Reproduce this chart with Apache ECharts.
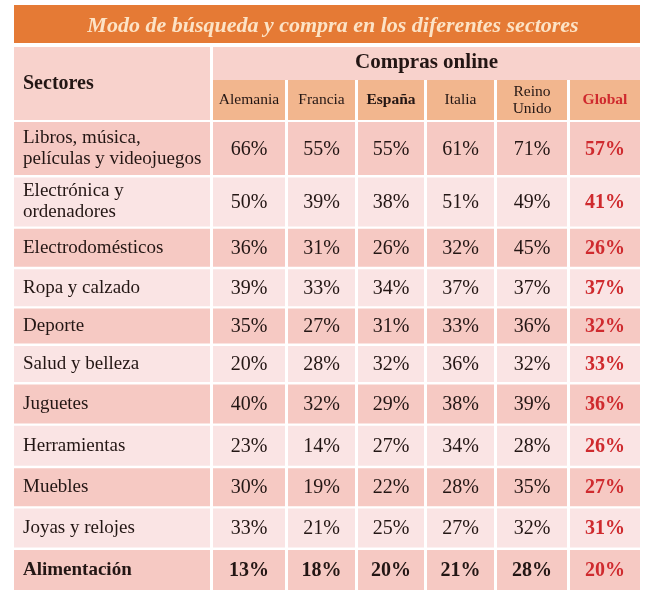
<!DOCTYPE html>
<html>
<head>
<meta charset="utf-8">
<script src="https://cdn.jsdelivr.net/npm/echarts@6/dist/echarts.min.js"></script>
<style>html,body{margin:0;padding:0;background:#fff}#c{width:658px;height:598px}</style>
</head>
<body>
<div id="c"></div>
<script>
// ---- data ----
const titleText = 'Modo de búsqueda y compra en los diferentes sectores';
const groupHeader = 'Compras online';
const sectorHeader = 'Sectores';
const sectors = ['Libros, música,\npelículas y videojuegos', 'Electrónica y\nordenadores', 'Electrodomésticos',
  'Ropa y calzado', 'Deporte', 'Salud y belleza', 'Juguetes', 'Herramientas', 'Muebles', 'Joyas y relojes', 'Alimentación'];
const countries = ['Alemania', 'Francia', 'España', 'Italia', 'Reino\nUnido', 'Global'];
const alemania   = [66, 50, 36, 39, 35, 20, 40, 23, 30, 33, 13];
const francia    = [55, 39, 31, 33, 27, 28, 32, 14, 19, 21, 18];
const espana     = [55, 38, 26, 34, 31, 32, 29, 27, 22, 25, 20];
const italia     = [61, 51, 32, 37, 33, 36, 38, 34, 28, 27, 21];
const reinoUnido = [71, 49, 45, 37, 36, 32, 39, 28, 35, 32, 28];
const global     = [57, 41, 26, 37, 32, 33, 36, 26, 27, 31, 20];
const seriesValues = [alemania, francia, espana, italia, reinoUnido, global];

// ---- layout (styles only) ----
const colWidths = [196, 72, 67, 66, 67, 70, 70];
const colGap = 3;
const rowHeights = [53, 49, 38, 37, 35, 36, 39, 40, 38, 39, 40];
const rowGap = 2.4;
const headTopH = 30, headGap = 3, headBotH = 40, bodyStart = 75;

const colL = [], colR = [];
let acc = 0;
colWidths.forEach((w, i) => { colL.push(acc); colR.push(acc + w); acc += w + colGap; });
const totalW = colR[colR.length - 1];
const rowT = [], rowB = [];
acc = bodyStart;
rowHeights.forEach(h => { rowT.push(acc); rowB.push(acc + h); acc += h + rowGap; });
const totalH = rowB[rowB.length - 1];

const FONT = '"Liberation Serif", "DejaVu Serif", serif';
const darkRow = '#F6C9C3', lightRow = '#FAE4E4';
const headPink = '#F8D2CC', headOrange = '#F2B68E';
const red = '#CF2A2E', ink = '#231614';

// cells: [col, row, value]
const bodyData = [];
seriesValues.forEach((arr, c) => arr.forEach((v, r) => bodyData.push([c + 1, r, v])));
const labelData = sectors.map((s, r) => [0, r, s]);
const headData = [[0, -1, sectorHeader], [1, -2, groupHeader]].concat(countries.map((n, i) => [i + 1, -3, n]));

function rectOf(api, x0, y0, x1, y1) {
  const p0 = api.coord([x0, y0]), p1 = api.coord([x1, y1]);
  return { x: p0[0], y: p0[1], width: p1[0] - p0[0], height: p1[1] - p0[1] };
}

const chart = echarts.init(document.getElementById('c'), null, { renderer: 'canvas' });
chart.setOption({
  backgroundColor: '#ffffff',
  animation: false,
  title: {
    text: titleText, left: 328, top: 10, textAlign: 'center',
    textStyle: { color: '#FCE3C6', fontFamily: FONT, fontStyle: 'italic', fontWeight: 'bold', fontSize: 22 }
  },
  graphic: [{ type: 'rect', left: 14, top: 5, shape: { width: 626, height: 38 }, style: { fill: '#E57A35' }, z: -1 }],
  grid: { left: 14, top: 47, width: totalW, height: totalH },
  xAxis: { type: 'value', min: 0, max: totalW, show: false },
  yAxis: { type: 'value', min: 0, max: totalH, inverse: true, show: false },
  series: [
    {
      type: 'custom', name: 'head', coordinateSystem: 'cartesian2d', data: headData,
      encode: { x: 0, y: 1 },
      renderItem: function (params, api) {
        const c = api.value(0), kind = api.value(1);
        const d = headData[params.dataIndex];
        let r, txt;
        if (kind === -1) {
          r = rectOf(api, colL[0], 0, colR[0], headTopH + headGap + headBotH);
          txt = { text: d[2], x: r.x + 9, y: r.y + r.height / 2, align: 'left', verticalAlign: 'middle',
            fontFamily: FONT, fontWeight: 'bold', fontSize: 20, fill: ink };
          return { type: 'group', children: [{ type: 'rect', shape: r, style: { fill: headPink } }, { type: 'text', style: txt }] };
        } else if (kind === -2) {
          r = rectOf(api, colL[1], 0, colR[colR.length - 1], headTopH);
          txt = { text: d[2], x: r.x + r.width / 2, y: r.y + r.height / 2 + 1, align: 'center', verticalAlign: 'middle',
            fontFamily: FONT, fontWeight: 'bold', fontSize: 21, fill: ink };
          return { type: 'group', children: [{ type: 'rect', shape: { x: r.x, y: r.y, width: r.width, height: r.height + headGap }, style: { fill: headPink } }, { type: 'text', style: txt }] };
        } else {
          r = rectOf(api, colL[c], headTopH + headGap, colR[c], headTopH + headGap + headBotH);
          const bold = (c === 3 || c === 6);
          txt = { text: d[2], x: r.x + r.width / 2, y: r.y + r.height / 2, align: 'center', verticalAlign: 'middle',
            fontFamily: FONT, fontWeight: bold ? 'bold' : 'normal', fontSize: 15.5, lineHeight: 17,
            fill: c === 6 ? red : ink };
          return { type: 'group', children: [
            { type: 'rect', shape: r, style: { fill: headOrange } }, { type: 'text', style: txt }] };
        }
      }
    },
    {
      type: 'custom', name: 'labels', coordinateSystem: 'cartesian2d', data: labelData,
      encode: { x: 0, y: 1 },
      renderItem: function (params, api) {
        const row = api.value(1);
        const r = rectOf(api, colL[0], rowT[row], colR[0], rowB[row]);
        const last = row === sectors.length - 1;
        return { type: 'group', children: [
          { type: 'rect', shape: r, style: { fill: row % 2 === 0 ? darkRow : lightRow } },
          { type: 'text', style: { text: labelData[params.dataIndex][2], x: r.x + 9, y: r.y + r.height / 2,
            align: 'left', verticalAlign: 'middle', fontFamily: FONT, fontWeight: last ? 'bold' : 'normal',
            fontSize: 19, lineHeight: 21, fill: ink } }] };
      }
    },
    {
      type: 'custom', name: 'values', coordinateSystem: 'cartesian2d', data: bodyData,
      encode: { x: 0, y: 1 },
      renderItem: function (params, api) {
        const c = api.value(0), row = api.value(1), v = api.value(2);
        const r = rectOf(api, colL[c], rowT[row], colR[c], rowB[row]);
        const isGlobal = c === 6, last = row === sectors.length - 1;
        return { type: 'group', children: [
          { type: 'rect', shape: r, style: { fill: row % 2 === 0 ? darkRow : lightRow } },
          { type: 'text', style: { text: v + '%', x: r.x + r.width / 2, y: r.y + r.height / 2 + 1,
            align: 'center', verticalAlign: 'middle', fontFamily: FONT,
            fontWeight: (isGlobal || last) ? 'bold' : 'normal', fontSize: 20,
            fill: isGlobal ? red : ink } }] };
      }
    }
  ]
});
</script>
</body>
</html>
